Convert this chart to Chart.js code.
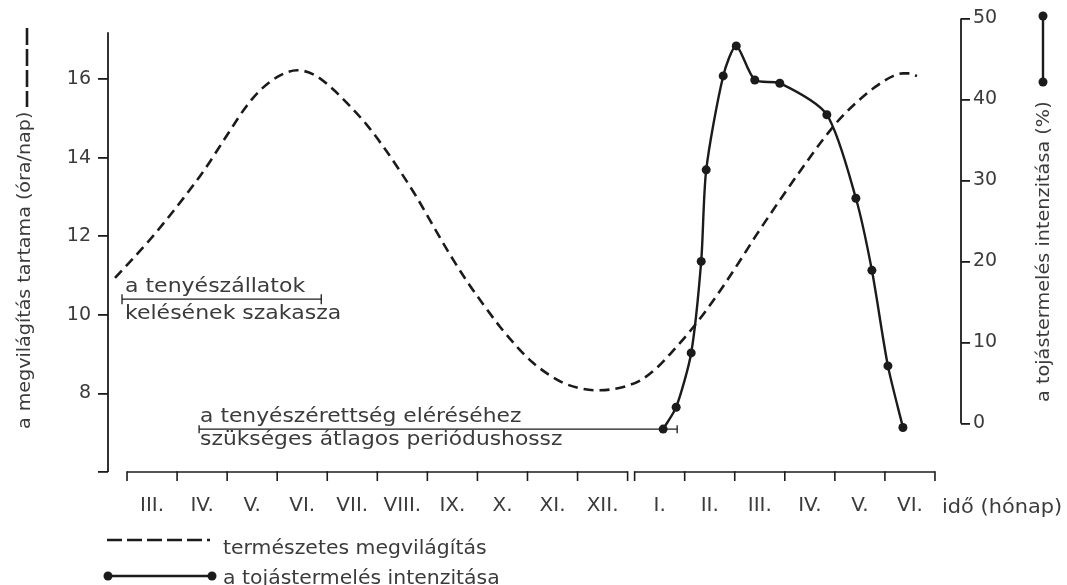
<!DOCTYPE html>
<html lang="hu">
<head>
<meta charset="UTF-8">
<title>Megvilágítás és tojástermelés</title>
<script src="https://cdn.jsdelivr.net/npm/chart.js@4.4.1/dist/chart.umd.min.js"></script>
<style>
    html, body { margin: 0; padding: 0; background: #fff; }
    #wrap { width: 1067px; height: 585px; }
</style>
</head>
<body>
<div id="wrap"><canvas id="main_chart"></canvas></div>
<script>
    // time axis: months counted from 1 March, second year starts after a short break
    const monthLabels = ['III.', 'IV.', 'V.', 'VI.', 'VII.', 'VIII.', 'IX.', 'X.', 'XI.', 'XII.',
                         'I.', 'II.', 'III.', 'IV.', 'V.', 'VI.'];
    const monthStarts = [0, 1, 2, 3, 4, 5, 6, 7, 8, 9, 10.14, 11.14, 12.14, 13.14, 14.14, 15.14];
    const yearSegments = [[0, 10], [10.14, 16.14]];

    // natural day length (hours/day)
    const lightMonths = [-0.24, 0.46, 1.12, 1.56, 2.00, 2.36, 2.66, 3.06, 3.40, 3.76, 4.11, 4.45, 4.79, 5.15,
                         5.45, 5.79, 6.11, 6.45, 6.79, 7.11, 7.45, 7.79, 8.11, 8.45, 8.75, 9.05, 9.35, 9.65,
                         9.95, 10.25, 10.59, 10.91, 11.25, 11.59, 11.91, 12.25, 12.58, 12.90, 13.24, 13.58,
                         13.90, 14.24, 14.58, 14.94, 15.30, 15.50, 15.64, 15.78];
    const lightHours = [10.94, 11.92, 12.96, 13.72, 14.58, 15.27, 15.72, 16.10, 16.23, 16.10, 15.75, 15.32, 14.84, 14.23,
                        13.67, 12.99, 12.28, 11.54, 10.86, 10.28, 9.70, 9.19, 8.78, 8.46, 8.25, 8.13, 8.08, 8.10,
                        8.18, 8.33, 8.66, 9.09, 9.59, 10.15, 10.73, 11.39, 12.05, 12.66, 13.29, 13.90,
                        14.46, 14.99, 15.42, 15.80, 16.08, 16.15, 16.15, 16.08];

    // egg production intensity (%)
    const eggMonths = [10.71, 10.97, 11.27, 11.47, 11.57, 11.91, 12.17, 12.54, 13.04, 13.98, 14.56, 14.88, 15.2, 15.5];
    const eggPercent = [-0.7, 2.0, 8.7, 20.0, 31.3, 42.9, 46.6, 42.4, 42.0, 38.1, 27.8, 18.9, 7.1, -0.5];

    const hourTicks = [6, 8, 10, 12, 14, 16];
    const percentTicks = [0, 10, 20, 30, 40, 50];

    // annotated periods: [from month, to month], level in hours
    const hatchingSpan = [-0.10, 3.88];
    const hatchingLevel = 10.4;
    const maturitySpan = [1.44, 10.99];
    const maturityLevel = 7.09;

    const FONT = '"DejaVu Sans", sans-serif';
    const INK = '#1b1b1b';
    const TEXT = '#3b3b3b';

    function drawText(ctx, text, x, y, size, sx, angle) {
        ctx.save();
        ctx.font = size + 'px ' + FONT;
        ctx.fillStyle = TEXT;
        ctx.textBaseline = 'alphabetic';
        ctx.textAlign = 'left';
        ctx.translate(x, y);
        if (angle) ctx.rotate(angle);
        ctx.scale(sx, 1);
        ctx.fillText(text, 0, 0);
        ctx.restore();
    }

    function line(ctx, x1, y1, x2, y2, width, dash) {
        ctx.save();
        ctx.strokeStyle = INK;
        ctx.lineWidth = width;
        ctx.setLineDash(dash || []);
        ctx.beginPath();
        ctx.moveTo(x1, y1);
        ctx.lineTo(x2, y2);
        ctx.stroke();
        ctx.restore();
    }

    function dot(ctx, x, y, r) {
        ctx.save();
        ctx.fillStyle = INK;
        ctx.beginPath();
        ctx.arc(x, y, r, 0, Math.PI * 2);
        ctx.fill();
        ctx.restore();
    }

    const overlay = {
        id: 'overlay',
        afterDraw(chart) {
            const ctx = chart.ctx;
            const xs = chart.scales.x, yh = chart.scales.y, yp = chart.scales.y2;
            const area = chart.chartArea;

            // axis lines
            line(ctx, area.left, yh.getPixelForValue(17.2), area.left, yh.getPixelForValue(6), 1.8);
            line(ctx, area.right, yp.getPixelForValue(50), area.right, yp.getPixelForValue(0), 1.8);

            // time axis brackets with month ticks
            const by = area.bottom;
            yearSegments.forEach(seg => {
                line(ctx, xs.getPixelForValue(seg[0]), by, xs.getPixelForValue(seg[1]), by, 1.6);
            });
            monthStarts.concat([10, 16.14]).forEach(m => {
                const px = xs.getPixelForValue(m);
                line(ctx, px, by - 0.8, px, by + 9, 1.6);
            });
            drawText(ctx, 'idő (hónap)', 942, 513, 19, 1.1);

            // hatching period
            let x1 = xs.getPixelForValue(hatchingSpan[0]), x2 = xs.getPixelForValue(hatchingSpan[1]);
            let ly = yh.getPixelForValue(hatchingLevel);
            line(ctx, x1, ly, x2, ly, 1.3);
            line(ctx, x1, ly - 5, x1, ly + 5, 1.3);
            line(ctx, x2, ly - 5, x2, ly + 5, 1.3);
            drawText(ctx, 'a tenyészállatok', x1 + 3, ly - 7, 20, 1.1);
            drawText(ctx, 'kelésének szakasza', x1 + 3, ly + 20, 20, 1.1);

            // period needed to reach breeding maturity
            x1 = xs.getPixelForValue(maturitySpan[0]);
            x2 = xs.getPixelForValue(maturitySpan[1]);
            ly = yh.getPixelForValue(maturityLevel);
            line(ctx, x1, ly, x2, ly, 1.3);
            line(ctx, x1, ly - 4, x1, ly + 4, 1.3);
            line(ctx, x2, ly - 4, x2, ly + 4, 1.3);
            drawText(ctx, 'a tenyészérettség eléréséhez', x1 + 1, ly - 7, 20, 1.09);
            drawText(ctx, 'szükséges átlagos periódushossz', x1 + 1, ly + 16, 20, 1.09);

            // axis titles with their line samples
            drawText(ctx, 'a megvilágítás tartama (óra/nap)', 30, 429, 18, 1.06, -Math.PI / 2);
            line(ctx, 27, 28, 27, 107, 2.6, [17, 4]);
            drawText(ctx, 'a tojástermelés intenzitása (%)', 1049, 402, 18, 1.07, -Math.PI / 2);
            line(ctx, 1043, 16, 1043, 82, 2.4);
            dot(ctx, 1043, 16, 4.5);
            dot(ctx, 1043, 82, 4.5);

            // legend
            const ds = chart.data.datasets;
            line(ctx, 107, 540, 210, 540, 2.6, [15, 5]);
            drawText(ctx, ds[0].label, 223, 554, 20, 1.02);
            line(ctx, 108, 576, 212, 576, 2.4);
            dot(ctx, 108, 576, 4.5);
            dot(ctx, 212, 576, 4.5);
            drawText(ctx, ds[1].label, 223, 584, 20, 1.02);
        }
    };

    const canvas = document.getElementById('main_chart').getContext('2d');
    const chart = new Chart(canvas, {
        type: 'line',
        data: {
            datasets: [{
                label: 'természetes megvilágítás',
                data: lightMonths.map((m, i) => ({x: m, y: lightHours[i]})),
                yAxisID: 'y',
                borderColor: INK,
                borderWidth: 2.6,
                borderDash: [10, 6],
                pointRadius: 0,
                cubicInterpolationMode: 'monotone',
                fill: false
            }, {
                label: 'a tojástermelés intenzitása',
                data: eggMonths.map((m, i) => ({x: m, y: eggPercent[i]})),
                yAxisID: 'y2',
                borderColor: INK,
                borderWidth: 2.4,
                pointRadius: 4.5,
                pointBackgroundColor: INK,
                pointBorderWidth: 0,
                tension: 0.25,
                fill: false
            }]
        },
        options: {
            responsive: true,
            maintainAspectRatio: false,
            animation: false,
            layout: {padding: {top: 15, left: 0, right: 0, bottom: 0}},
            plugins: {legend: {display: false}, tooltip: {enabled: false}},
            scales: {
                x: {
                    type: 'linear',
                    min: -0.38,
                    max: 16.66,
                    grid: {display: false, drawTicks: false},
                    border: {display: false},
                    afterBuildTicks: s => { s.ticks = monthStarts.map(m => ({value: m + 0.5})); },
                    afterFit: s => { s.height = 113; },
                    ticks: {
                        autoSkip: false, maxRotation: 0, padding: 22, color: TEXT,
                        font: {family: FONT, size: 20},
                        callback: (v, i) => monthLabels[i]
                    }
                },
                y: {
                    position: 'left',
                    min: 6,
                    max: 17.55,
                    afterBuildTicks: s => { s.ticks = hourTicks.map(v => ({value: v})); },
                    afterFit: s => { s.width = 108; },
                    grid: {drawOnChartArea: false, color: INK, lineWidth: 1.8, tickLength: 10},
                    border: {display: false},
                    ticks: {
                        padding: 7, color: TEXT, font: {family: FONT, size: 19},
                        callback: v => v === 6 ? '' : v
                    }
                },
                y2: {
                    position: 'right',
                    min: -6,
                    max: 50,
                    afterBuildTicks: s => { s.ticks = percentTicks.map(v => ({value: v})); },
                    afterFit: s => { s.width = 106; },
                    grid: {drawOnChartArea: false, color: INK, lineWidth: 1.8, tickLength: 9},
                    border: {display: false},
                    ticks: {padding: 3, color: TEXT, font: {family: FONT, size: 19}}
                }
            }
        },
        plugins: [overlay]
    });
</script>
</body>
</html>
